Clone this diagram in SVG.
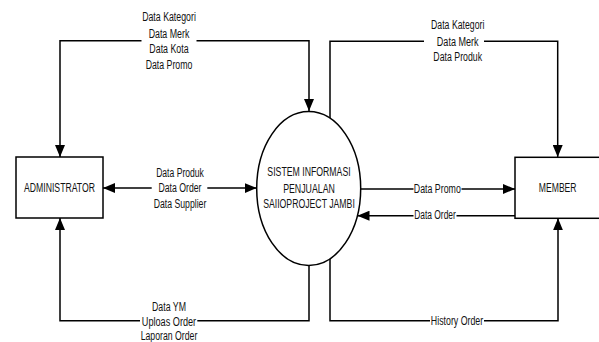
<svg xmlns="http://www.w3.org/2000/svg" width="599" height="342" viewBox="0 0 599 342">
<style>
text{font-family:"Liberation Sans",Arial,sans-serif;font-size:12.5px;fill:#111;text-anchor:middle}
.ln{fill:none;stroke:#000;stroke-width:1.5}
.box{fill:#fff;stroke:#000;stroke-width:1.5}
.bg{fill:#fff}
</style>
<defs>
<marker id="arr" viewBox="0 0 12 10" refX="12" refY="5" markerWidth="12" markerHeight="10" markerUnits="userSpaceOnUse" orient="auto-start-reverse">
<path d="M0,0 L12,5 L0,10 z" fill="#000"/>
</marker>
</defs>
<rect width="599" height="342" fill="#fff"/>
<g id="connectors">
<path class="ln" d="M60,157 L60,40.7 L309,40.7 L309,111" marker-start="url(#arr)" marker-end="url(#arr)"/>
<path class="ln" d="M330,118.3 L330,41.3 L557.7,41.3 L557.7,157" marker-end="url(#arr)"/>
<path class="ln" d="M103,188 L256.7,188" marker-start="url(#arr)" marker-end="url(#arr)"/>
<path class="ln" d="M360.7,189 L515,189" marker-end="url(#arr)"/>
<path class="ln" d="M515,215.7 L357.5,215.7" marker-end="url(#arr)"/>
<path class="ln" d="M309,265.5 L309,320.7 L60,320.7 L60,218" marker-end="url(#arr)"/>
<path class="ln" d="M330,258.7 L330,320.7 L558,320.7 L558,218.3" marker-end="url(#arr)"/>
<g id="labels">
<rect class="bg" x="141.5" y="30" width="55" height="20"/>
<text x="169" y="21" textLength="53.7" lengthAdjust="spacingAndGlyphs">Data Kategori</text>
<text x="169" y="37.6" textLength="40.7" lengthAdjust="spacingAndGlyphs">Data Merk</text>
<text x="169" y="53.3" textLength="39.3" lengthAdjust="spacingAndGlyphs">Data Kota</text>
<text x="169" y="69.3" textLength="46.7" lengthAdjust="spacingAndGlyphs">Data Promo</text>
<rect class="bg" x="424" y="35" width="60" height="12"/>
<text x="457.7" y="29.3" textLength="53.3" lengthAdjust="spacingAndGlyphs">Data Kategori</text>
<text x="457.7" y="45.5" textLength="41.7" lengthAdjust="spacingAndGlyphs">Data Merk</text>
<text x="457.7" y="61.3" textLength="48.7" lengthAdjust="spacingAndGlyphs">Data Produk</text>
<rect class="bg" x="151.7" y="182" width="55.6" height="12"/>
<text x="180" y="177" textLength="47.7" lengthAdjust="spacingAndGlyphs">Data Produk</text>
<text x="180" y="192.3" textLength="43" lengthAdjust="spacingAndGlyphs">Data Order</text>
<text x="180" y="207.6" textLength="52.7" lengthAdjust="spacingAndGlyphs">Data Supplier</text>
<rect class="bg" x="413.5" y="183" width="48" height="12"/>
<text x="437.3" y="193.3" textLength="47" lengthAdjust="spacingAndGlyphs">Data Promo</text>
<rect class="bg" x="413.5" y="209" width="43" height="12"/>
<text x="435" y="219.3" textLength="41.7" lengthAdjust="spacingAndGlyphs">Data Order</text>
<rect class="bg" x="140" y="315" width="57.3" height="12"/>
<text x="169" y="310.5" textLength="34" lengthAdjust="spacingAndGlyphs">Data YM</text>
<text x="169" y="325.5" textLength="54.3" lengthAdjust="spacingAndGlyphs">Uploas Order</text>
<text x="169" y="339.5" textLength="56.7" lengthAdjust="spacingAndGlyphs">Laporan Order</text>
<rect class="bg" x="430" y="315" width="54" height="12"/>
<text x="457" y="325" textLength="52.3" lengthAdjust="spacingAndGlyphs">History Order</text>
</g>
</g>
<g id="administrator">
<rect class="box" x="16" y="157" width="87" height="61"/>
<text x="59.5" y="192" textLength="71" lengthAdjust="spacingAndGlyphs">ADMINISTRATOR</text>
</g>
<g id="sistem">
<ellipse class="box" cx="308.7" cy="188.5" rx="52" ry="77"/>
<text x="309" y="176" textLength="83.3" lengthAdjust="spacingAndGlyphs">SISTEM INFORMASI</text>
<text x="309" y="192.6" textLength="51.7" lengthAdjust="spacingAndGlyphs">PENJUALAN</text>
<text x="309" y="207.6" textLength="91.7" lengthAdjust="spacingAndGlyphs">SAIIOPROJECT JAMBI</text>
</g>
<g id="member">
<rect class="box" x="515" y="157.3" width="86" height="61"/>
<text x="557.7" y="191.6" textLength="37.7" lengthAdjust="spacingAndGlyphs">MEMBER</text>
</g>
</svg>
